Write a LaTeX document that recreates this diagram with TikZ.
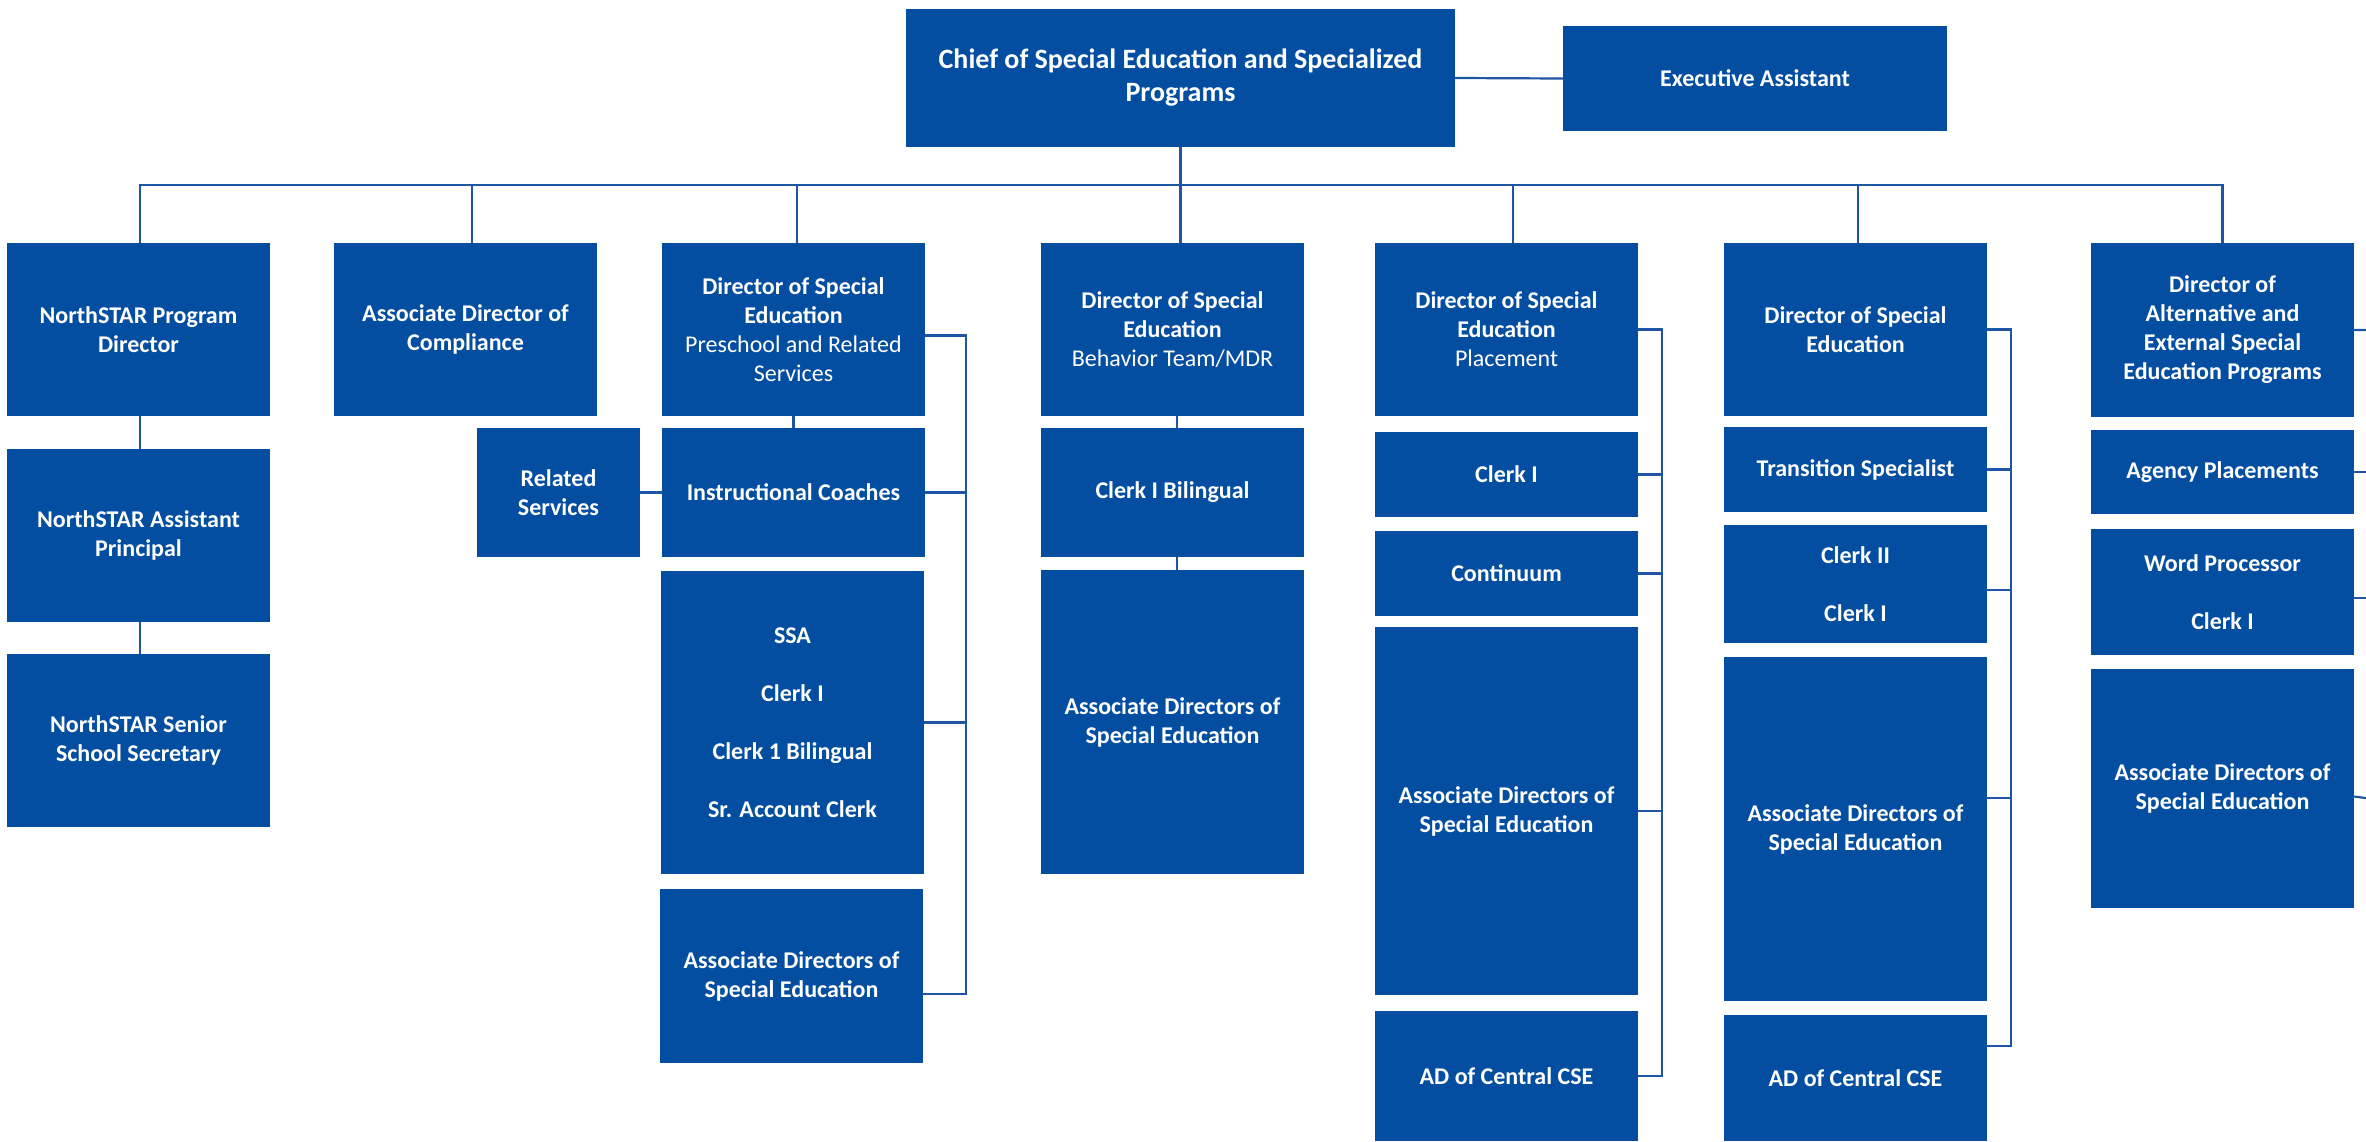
\documentclass[tikz,border=0pt]{standalone}
\usepackage{fontspec}
\setmainfont{Carlito}
\usepackage{tikz}
\usetikzlibrary{positioning}

\definecolor{orgblue}{RGB}{4,78,162}
\definecolor{lineblue}{RGB}{30,85,165}

\begin{document}
\begin{tikzpicture}[
    x=1pt, y=-1pt,
    box/.style={rectangle, fill=orgblue, text=white, inner sep=0pt, align=center,
                font=\fontsize{24}{29}\selectfont\bfseries, minimum width=263pt},
    link/.style={draw=lineblue, line width=2.2pt}
]
    \clip (0,0) rectangle (2366,1141);
    \useasboundingbox (0,0) rectangle (2366,1141);

    % Top
    \node[box, minimum width=549pt, minimum height=138pt, font=\fontsize{28}{33}\selectfont\bfseries] (chief) at (1180.5, 78)
        {Chief of Special Education and Specialized\\Programs};
    \node[box, minimum width=384pt, minimum height=105pt] (exec) at (1755, 78.5) {Executive Assistant};

    % Directors row
    \node[box, minimum height=173pt] (nsdir) at (138.5, 329.5) {NorthSTAR Program\\Director};
    \node[box, minimum height=173pt] (comp) at (465.5, 329.5) {Associate Director of\\Compliance};
    \node[box, minimum height=173pt] (pre) at (793.5, 329.5)
        {Director of Special\\Education\\\mdseries Preschool and Related\\\mdseries Services};
    \node[box, minimum height=173pt] (beh) at (1172.5, 329.5)
        {Director of Special\\Education\\\mdseries Behavior Team/MDR};
    \node[box, minimum height=173pt] (place) at (1506.5, 329.5)
        {Director of Special\\Education\\\mdseries Placement};
    \node[box, minimum height=173pt] (trans) at (1855.5, 329.5) {Director of Special\\Education};
    \node[box, minimum height=174pt] (alt) at (2222.5, 330)
        {Director of\\Alternative and\\External Special\\Education Programs};

    % NorthSTAR
    \node[box, minimum height=173pt] (nsap) at (138.5, 535.5) {NorthSTAR Assistant\\Principal};
    \node[box, minimum height=173pt] (nssec) at (138.5, 740.5) {NorthSTAR Senior\\School Secretary};

    % Preschool and Related Services
    \node[box, minimum height=129pt] (coach) at (793.5, 492.5) {Instructional Coaches};
    \node[box, minimum width=163pt, minimum height=129pt] (rel) at (558.5, 492.5) {Related\\Services};
    \node[box, minimum height=303pt] (ssa) at (792.5, 722.5)
        {SSA\\[29pt]Clerk I\\[29pt]Clerk 1 Bilingual\\[29pt]Sr. Account Clerk};
    \node[box, minimum height=174pt] (preassoc) at (791.5, 976) {Associate Directors of\\Special Education};

    % Behavior Team
    \node[box, minimum height=129pt] (behclerk) at (1172.5, 492.5) {Clerk I Bilingual};
    \node[box, minimum height=304pt] (behassoc) at (1172.5, 722) {Associate Directors of\\Special Education};

    % Placement
    \node[box, minimum height=85pt] (plclerk) at (1506.5, 474.5) {Clerk I};
    \node[box, minimum height=85pt] (plcont) at (1506.5, 573.5) {Continuum};
    \node[box, minimum height=368pt] (plassoc) at (1506.5, 811) {Associate Directors of\\Special Education};
    \node[box, minimum height=130pt] (plad) at (1506.5, 1076) {AD of Central CSE};

    % Transition
    \node[box, minimum height=85pt] (trspec) at (1855.5, 469.5) {Transition Specialist};
    \node[box, minimum height=118pt] (trclerk) at (1855.5, 584) {Clerk II\\[29pt]Clerk I};
    \node[box, minimum height=344pt] (trassoc) at (1855.5, 829) {Associate Directors of\\Special Education};
    \node[box, minimum height=126pt] (trad) at (1855.5, 1078) {AD of Central CSE};

    % Alternative
    \node[box, minimum height=84pt] (agency) at (2222.5, 472) {Agency Placements};
    \node[box, minimum height=126pt] (wordp) at (2222.5, 592) {Word Processor\\[29pt]Clerk I};
    \node[box, minimum height=239pt] (altassoc) at (2222.5, 788.5) {Associate Directors of\\Special Education};

    % Connectors
    \draw[link] (chief.east) -- (exec.west);
    \draw[link] (chief.south) -- (chief.south |- beh.north);
    \draw[link] ([xshift=1.5pt]nsdir.north) |- (alt.north |- 0,185) -- (alt.north);
    \foreach \n/\dx in {comp/6.5, pre/3.5, place/6.5, trans/2.5}
        \draw[link] ([xshift=\dx pt]\n.north) -- ([xshift=\dx pt]\n.north |- 0,185);

    \draw[link] ([xshift=1.5pt]nsdir.south) -- ([xshift=1.5pt]nsap.north);
    \draw[link] ([xshift=1.5pt]nsap.south) -- ([xshift=1.5pt]nssec.north);

    \draw[link] (pre.south) -- (coach.north);
    \draw[link] (rel.east) -- (coach.west);
    \draw[link] ([yshift=-6pt]pre.east) -| (966, 994) -- ([yshift=-18pt]preassoc.east);
    \draw[link] (coach.east) -- (966, 492.5);
    \draw[link] (ssa.east) -- (966, 722.5);

    \draw[link] ([xshift=4.5pt]beh.south) -- ([xshift=4.5pt]behclerk.north);
    \draw[link] ([xshift=4.5pt]behclerk.south) -- ([xshift=4.5pt]behassoc.north);

    \draw[link] (place.east) -| (1662, 1076) -- (plad.east);
    \foreach \n in {plclerk, plcont, plassoc}
        \draw[link] (\n.east) -- (\n.east -| 1662, 0);

    \draw[link] (trans.east) -| (2011, 1046) -- ([yshift=32pt]trad.east);
    \draw[link] (trspec.east) -- (trspec.east -| 2011, 0);
    \draw[link] ([yshift=-6pt]trclerk.east) -- ([yshift=-6pt]trclerk.east -| 2011, 0);
    \draw[link] ([yshift=31pt]trassoc.east) -- ([yshift=31pt]trassoc.east -| 2011, 0);

    \draw[link] (alt.east) -| (2380, 800) -- ([yshift=-8pt]altassoc.east);
    \draw[link] (agency.east) -- (agency.east -| 2380, 0);
    \draw[link] ([yshift=-6pt]wordp.east) -- ([yshift=-6pt]wordp.east -| 2380, 0);

\end{tikzpicture}
\end{document}
